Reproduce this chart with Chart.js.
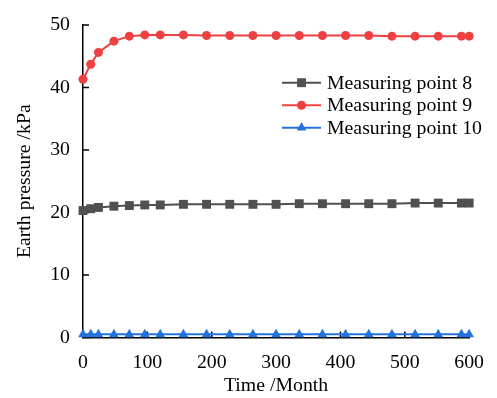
<!DOCTYPE html>
<html>
<head>
<meta charset="utf-8">
<script src="https://cdn.jsdelivr.net/npm/chart.js@4/dist/chart.umd.min.js"></script>
<style>
  html, body { margin: 0; padding: 0; background: #fff; }
  #wrap { width: 497px; height: 398px; }
</style>
</head>
<body>
<div id="wrap"><canvas id="c" width="497" height="398"></canvas></div>
<script>
const months = [0, 12, 24, 48, 72, 96, 120, 156, 192, 228, 264, 300, 336, 372, 408, 444, 480, 516, 552, 588, 600];
const point8 = [20.3, 20.6, 20.8, 21.0, 21.1, 21.2, 21.2, 21.3, 21.3, 21.3, 21.3, 21.3, 21.4, 21.4, 21.4, 21.4, 21.4, 21.5, 21.5, 21.5, 21.5];
const point9 = [41.3, 43.7, 45.6, 47.4, 48.2, 48.4, 48.4, 48.4, 48.3, 48.3, 48.3, 48.3, 48.3, 48.3, 48.3, 48.3, 48.2, 48.2, 48.2, 48.2, 48.2];
const point10 = [0.5, 0.5, 0.5, 0.5, 0.5, 0.5, 0.5, 0.5, 0.5, 0.5, 0.5, 0.5, 0.5, 0.5, 0.5, 0.5, 0.5, 0.5, 0.5, 0.5, 0.5];
const seriesNames = ['Measuring point 8', 'Measuring point 9', 'Measuring point 10'];
const xTitle = 'Time /Month';
const yTitle = 'Earth pressure /kPa';

const FONT = "'Liberation Serif', 'Times New Roman', serif";
const FS = 19.8;

function toXY(xs, ys) { return xs.map((x, i) => ({ x: x, y: ys[i] })); }

const styles = [
  { color: '#505050', pointStyle: 'rect', radius: 6.3 },
  { color: '#EE4040', pointStyle: 'circle', radius: 4.5 },
  { color: '#2472DB', pointStyle: 'triangle', radius: 5.6 }
];
const seriesData = [point8, point9, point10];

const datasets = seriesData.map((ys, i) => ({
  label: seriesNames[i],
  data: toXY(months, ys),
  borderColor: styles[i].color,
  backgroundColor: styles[i].color,
  pointBackgroundColor: styles[i].color,
  pointBorderColor: styles[i].color,
  pointBorderWidth: 0,
  pointStyle: styles[i].pointStyle,
  pointRadius: styles[i].radius,
  borderWidth: 2,
  tension: 0,
  clip: false
}));

const tickMarks = {
  id: 'tickMarks',
  beforeDatasetsDraw(chart) {
    const ctx = chart.ctx;
    const xs = chart.scales.x, ys = chart.scales.y;
    const ca = chart.chartArea;
    ctx.save();
    ctx.strokeStyle = '#000';
    ctx.lineWidth = 1.5;
    ctx.beginPath();
    ys.ticks.forEach(t => {
      const py = ys.getPixelForValue(t.value);
      ctx.moveTo(ca.left, py);
      ctx.lineTo(ca.left + 6, py);
    });
    xs.ticks.forEach(t => {
      const px = xs.getPixelForValue(t.value);
      ctx.moveTo(px, ca.bottom);
      ctx.lineTo(px, ca.bottom - 6);
    });
    ctx.stroke();
    ctx.restore();
  }
};

const insideLegend = {
  id: 'insideLegend',
  afterDraw(chart) {
    const ctx = chart.ctx;
    const x0 = 282, x1 = 321, tx = 327;
    const rows = [82.7, 105.2, 127.7];
    ctx.save();
    chart.data.datasets.forEach((ds, i) => {
      const y = rows[i];
      ctx.strokeStyle = ds.borderColor;
      ctx.lineWidth = 2;
      ctx.beginPath();
      ctx.moveTo(x0, y);
      ctx.lineTo(x1, y);
      ctx.stroke();
      ctx.fillStyle = ds.pointBackgroundColor;
      ctx.strokeStyle = ds.pointBorderColor;
      Chart.helpers.drawPoint(ctx, {
        pointStyle: ds.pointStyle,
        radius: ds.pointRadius,
        rotation: 0,
        borderWidth: 0
      }, (x0 + x1) / 2, y);
      ctx.fillStyle = '#000';
      ctx.font = FS + 'px ' + FONT;
      ctx.textAlign = 'left';
      ctx.textBaseline = 'middle';
      ctx.fillText(ds.label, tx, y + 1);
    });
    ctx.restore();
  }
};

new Chart(document.getElementById('c'), {
  type: 'line',
  data: { datasets: datasets },
  options: {
    responsive: false,
    animation: false,
    devicePixelRatio: 1,
    layout: { padding: { left: 0, top: 19.5, right: 20, bottom: 0 } },
    plugins: { legend: { display: false }, tooltip: { enabled: false } },
    scales: {
      x: {
        type: 'linear',
        min: 0, max: 600,
        ticks: { stepSize: 100, color: '#000', font: { family: FONT, size: FS }, padding: 13, maxRotation: 0 },
        grid: { display: false, drawTicks: false },
        border: { display: true, color: '#000', width: 1.5 },
        title: { display: true, text: xTitle, color: '#000', font: { family: FONT, size: FS }, padding: { top: 0, bottom: 0 } },
        afterFit(scale) { scale.height = 60.5; }
      },
      y: {
        min: 0, max: 50,
        ticks: { stepSize: 10, color: '#000', font: { family: FONT, size: FS }, padding: 13 },
        grid: { display: false, drawTicks: false },
        border: { display: true, color: '#000', width: 1.5 },
        title: { display: true, text: yTitle, color: '#000', font: { family: FONT, size: FS }, padding: { top: 13, bottom: 0 } },
        afterFit(scale) { scale.width = 83; }
      }
    }
  },
  plugins: [tickMarks, insideLegend]
});
</script>
</body>
</html>
